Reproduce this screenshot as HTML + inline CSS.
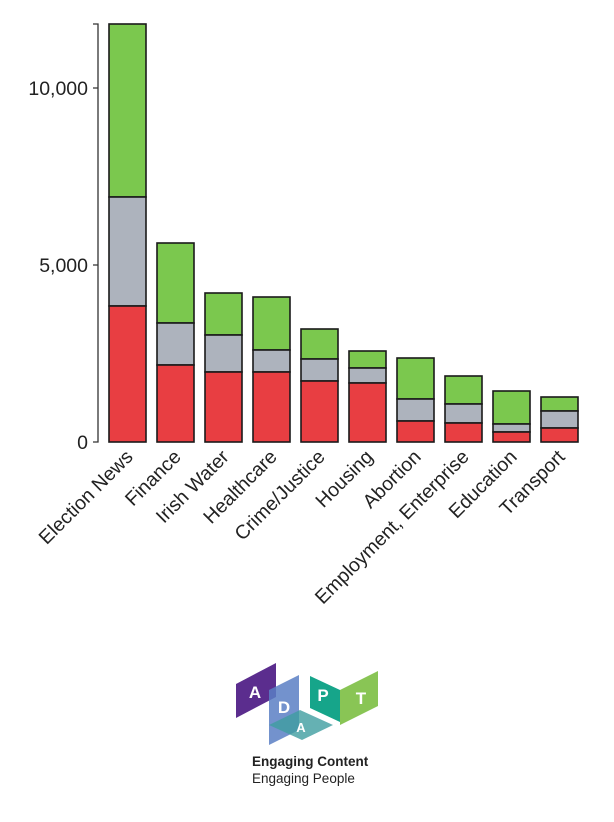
<!DOCTYPE html>
<html><head><meta charset="utf-8"><style>html,body{margin:0;padding:0;background:#fff}</style></head>
<body>
<svg width="614" height="817" viewBox="0 0 614 817" xmlns="http://www.w3.org/2000/svg" font-family="Liberation Sans, sans-serif">
<g stroke="#333" stroke-width="1.3" fill="none">
<path d="M93,24 H98 V442 H93"/>
<path d="M93,88 H98 M93,265 H98"/>
</g>
<g font-size="19.5" fill="#222" text-anchor="end">
<text x="88" y="95">10,000</text>
<text x="88" y="272">5,000</text>
<text x="88" y="449">0</text>
</g>
<g stroke="#1a1a1a" stroke-width="1.6">
<rect x="109" y="24" width="37" height="173" fill="#7bc84e"/><rect x="109" y="197" width="37" height="109" fill="#adb3bd"/><rect x="109" y="306" width="37" height="136" fill="#e83e42"/>
<rect x="157" y="243" width="37" height="80" fill="#7bc84e"/><rect x="157" y="323" width="37" height="42" fill="#adb3bd"/><rect x="157" y="365" width="37" height="77" fill="#e83e42"/>
<rect x="205" y="293" width="37" height="42" fill="#7bc84e"/><rect x="205" y="335" width="37" height="37" fill="#adb3bd"/><rect x="205" y="372" width="37" height="70" fill="#e83e42"/>
<rect x="253" y="297" width="37" height="53" fill="#7bc84e"/><rect x="253" y="350" width="37" height="22" fill="#adb3bd"/><rect x="253" y="372" width="37" height="70" fill="#e83e42"/>
<rect x="301" y="329" width="37" height="30" fill="#7bc84e"/><rect x="301" y="359" width="37" height="22" fill="#adb3bd"/><rect x="301" y="381" width="37" height="61" fill="#e83e42"/>
<rect x="349" y="351" width="37" height="17" fill="#7bc84e"/><rect x="349" y="368" width="37" height="15" fill="#adb3bd"/><rect x="349" y="383" width="37" height="59" fill="#e83e42"/>
<rect x="397" y="358" width="37" height="41" fill="#7bc84e"/><rect x="397" y="399" width="37" height="22" fill="#adb3bd"/><rect x="397" y="421" width="37" height="21" fill="#e83e42"/>
<rect x="445" y="376" width="37" height="28" fill="#7bc84e"/><rect x="445" y="404" width="37" height="19" fill="#adb3bd"/><rect x="445" y="423" width="37" height="19" fill="#e83e42"/>
<rect x="493" y="391" width="37" height="33" fill="#7bc84e"/><rect x="493" y="424" width="37" height="8" fill="#adb3bd"/><rect x="493" y="432" width="37" height="10" fill="#e83e42"/>
<rect x="541" y="397" width="37" height="14" fill="#7bc84e"/><rect x="541" y="411" width="37" height="17" fill="#adb3bd"/><rect x="541" y="428" width="37" height="14" fill="#e83e42"/>
</g>
<g font-size="19.5" fill="#222" text-anchor="end">
<text transform="translate(134,458) rotate(-45)">Election News</text>
<text transform="translate(182,458) rotate(-45)">Finance</text>
<text transform="translate(230,458) rotate(-45)">Irish Water</text>
<text transform="translate(278,458) rotate(-45)">Healthcare</text>
<text transform="translate(326,458) rotate(-45)">Crime/Justice</text>
<text transform="translate(374,458) rotate(-45)">Housing</text>
<text transform="translate(422,458) rotate(-45)">Abortion</text>
<text transform="translate(470,458) rotate(-45)">Employment, Enterprise</text>
<text transform="translate(518,458) rotate(-45)">Education</text>
<text transform="translate(566,458) rotate(-45)">Transport</text>
</g>
<g>
<polygon points="236,684 276,663 276,697 236,718" fill="#5b2d8e"/>
<polygon points="269,690 299,675 299,730 269,745" fill="#5b7fc4" opacity="0.85"/>
<polygon points="269,725 300,710 333,725 302,740" fill="#3f9ea0" opacity="0.8"/>
<polygon points="310,676 340,690 340,722 310,708" fill="#16a58a"/>
<polygon points="340,690 378,671 378,706 340,725" fill="#7cbf42" opacity="0.9"/>
<g fill="#fff" font-weight="bold" font-size="17" text-anchor="middle">
<text x="255" y="698">A</text><text x="284" y="713">D</text><text x="323" y="701">P</text><text x="361" y="704">T</text><text x="301" y="732" font-size="13">A</text>
</g>
</g>
<text x="252" y="766" font-size="13.5" font-weight="bold" fill="#222">Engaging Content</text>
<text x="252" y="783" font-size="13.5" fill="#222">Engaging People</text>
</svg>
</body></html>
